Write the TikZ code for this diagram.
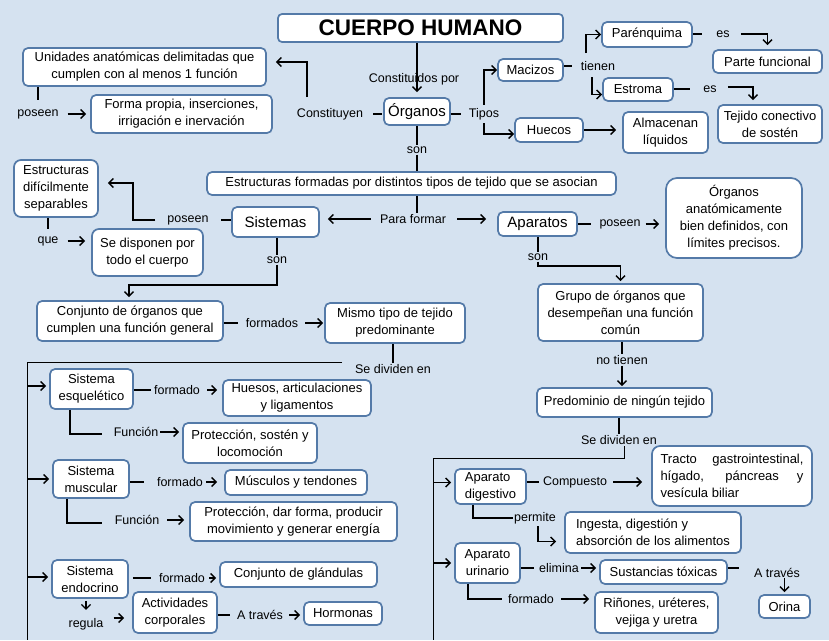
\documentclass[tikz,border=0pt]{standalone}
\usepackage{fontspec}
\setmainfont{Liberation Sans}
\usetikzlibrary{arrows.meta}
\definecolor{bgc}{RGB}{213,226,240}
\definecolor{bdc}{RGB}{84,122,168}
\begin{document}
\begin{tikzpicture}[x=1pt,y=-1pt,
 box/.style={draw=bdc, fill=white, rounded corners=5pt, line width=1.7pt, align=center, inner sep=2pt, font=\fontsize{13}{17}\selectfont},
 big/.style={box, font=\fontsize{15}{18}\selectfont},
 lab/.style={inner sep=1pt, font=\fontsize{12.5}{15}\selectfont},
 con/.style={line width=1.4pt, black},
 thin/.style={line width=1pt, black},
 arr/.style={con, -{Straight Barb[length=4.5pt,width=9pt]}},
]
\useasboundingbox (0,0) rectangle (829,640);
\fill[bgc] (0,0) rectangle (829,640);

% ---------- top ----------
\node[box, font=\bfseries\fontsize{22.5}{26}\selectfont, minimum width=285, minimum height=28, rounded corners=4pt] (title) at (420.5,28) {CUERPO HUMANO};
\node[box, minimum width=243, minimum height=38] (unid) at (144.5,67) {Unidades anatómicas delimitadas que\\cumplen con al menos 1 función};
\node[box, minimum width=181, minimum height=38] (forma) at (181.5,114) {Forma propia, inserciones,\\irrigación e inervación};
\node[lab] (pos1) at (38,114) {poseen};
\node[big, minimum width=66, minimum height=27] (org) at (417,111.5) {Órganos};
\node[lab] (const) at (330,114) {Constituyen};
\node[lab] (constp) at (414,79) {Constituidos por};
\node[lab] (tipos) at (484,114) {Tipos};
\node[box, minimum width=65, minimum height=22] (maci) at (530.5,70) {Macizos};
\node[box, minimum width=68, minimum height=24] (huec) at (549,130) {Huecos};
\node[lab] (tien) at (598,66) {tienen};
\node[box, minimum width=90, minimum height=25] (paren) at (647,34.5) {Parénquima};
\node[box, minimum width=70, minimum height=23] (estro) at (638,89.5) {Estroma};
\node[lab] (es1) at (723,34) {es};
\node[lab] (es2) at (710,89) {es};
\node[box, minimum width=109, minimum height=23] (parte) at (767.5,61.5) {Parte funcional};
\node[box, minimum width=104, minimum height=38] (tejc) at (770,124) {Tejido conectivo\\de sostén};
\node[box, minimum width=85, minimum height=41] (alma) at (665.5,132.5) {Almacenan\\líquidos};
\node[lab] (son1) at (417,150) {son};

\draw[con, shorten >=8pt] (pos1.north |- unid.south) -- (pos1.north);
\draw[arr, shorten <=8pt, shorten >=4pt] (pos1.east) -- (pos1.east -| forma.west);
\draw[con, shorten <=1pt, shorten >=9pt] (const.east -| org.west) -- (const.east);
\coordinate (c1) at (307,97);
\draw[arr, shorten >=9pt] (c1) |- ([yshift=5pt]unid.east);
\draw[arr, shorten >=5pt] (title.south -| org.north) -- (org.north);
\draw[con, shorten >=7pt] (tipos.west -| org.east) -- (tipos.west);
\draw[arr, shorten <=2pt] (tipos.north) |- (maci.west);
\draw[arr, shorten <=2pt] (tipos.south) |- ([yshift=-4pt]huec.west);
\draw[con, shorten >=8pt] (tien.west -| maci.east) -- (tien.west);
\coordinate (t1) at (586,53);
\coordinate (t2) at (592,77);
\draw[arr] (t1) |- (paren.west);
\draw[arr] (t2) |- ([yshift=-5pt]estro.west);
\draw[con, shorten >=13pt] (es1.west -| paren.east) -- (es1.west);
\draw[arr, shorten <=10pt, shorten >=4pt] (es1.east) -| (parte.north);
\draw[con, shorten >=12pt] (es2.west -| estro.east) -- (es2.west);
\draw[arr, shorten <=10pt, shorten >=4pt] ([yshift=2pt]es2.east) -| ([xshift=-17pt]tejc.north);
\draw[arr, shorten >=6pt] (huec.east) -- (huec.east -| alma.west);

% ---------- middle ----------
\node[box, minimum width=409, minimum height=23] (estr) at (411.5,183.5) {Estructuras formadas por distintos tipos de tejido que se asocian};
\draw[con] (org.south) -- (son1.north);
\draw[con] (son1.south) -- (son1.south |- estr.north);
\node[lab] (para) at (413,219) {Para formar};
\draw[con] (estr.south -| son1) -- (para.north -| son1);
\node[big, minimum width=87, minimum height=30] (sist) at (275.5,222) {Sistemas};
\node[big, minimum width=79, minimum height=24] (apar) at (537.5,224) {Aparatos};
\draw[arr, shorten <=8pt, shorten >=8pt] (para.west) -- (para.west -| sist.east);
\draw[arr, shorten <=10pt, shorten >=11pt] (para.east) -- (para.east -| apar.west);

\node[lab] (pos2) at (188,220) {poseen};
\node[box, minimum width=84, minimum height=57, rounded corners=7pt] (estd) at (56,188.5) {Estructuras\\difícilmente\\separables};
\draw[con, shorten >=11pt] (sist.west |- pos2.east) -- (pos2.east);
\coordinate (b1) at (133,183);
\draw[arr, shorten <=11pt, shorten >=9pt] (pos2.west) -| (b1) -- (b1 -| estd.east);
\node[lab] (que) at (48,241) {que};
\node[box, minimum width=111, minimum height=47, rounded corners=7pt] (sedis) at (147.5,252.5) {Se disponen por\\todo el cuerpo};
\draw[con, shorten >=6pt] (que.north |- estd.south) -- (que.north);
\draw[arr, shorten <=8pt, shorten >=6pt] (que.east) -- (que.east -| sedis.west);

\node[lab] (son2) at (277,260) {son};
\draw[con] (sist.south -| son2) -- (son2.north);
\node[box, minimum width=186, minimum height=40] (conj) at (130,321) {Conjunto de órganos que\\cumplen una función general};
\coordinate (k2) at (129,285);
\draw[arr, shorten >=3pt] (son2.south) |- (k2) -- (conj.north -| k2);
\node[lab] (formados) at (272,323) {formados};
\node[box, minimum width=140, minimum height=40] (mismo) at (395,323) {Mismo tipo de tejido\\predominante};
\draw[con, shorten >=7pt] (formados.west -| conj.east) -- (formados.west);
\draw[arr, shorten <=6pt, shorten >=1pt] (formados.east) -- (formados.east -| mismo.west);

\node[lab] (pos3) at (620,224) {poseen};
\node[box, minimum width=136, minimum height=80, rounded corners=11pt] (oanat) at (734,218) {Órganos\\anatómicamente\\bien definidos, con\\límites precisos.};
\draw[con, shorten >=7pt] (apar.east |- pos3.west) -- (pos3.west);
\draw[arr, shorten <=4pt, shorten >=6pt] (pos3.east) -- (pos3.east -| oanat.west);
\node[lab] (son3) at (538,257) {son};
\draw[con] (apar.south -| son3) -- (son3.north);
\node[box, minimum width=165, minimum height=57] (grupo) at (620.5,312.5) {Grupo de órganos que\\desempeñan una función\\común};
\coordinate (k3) at (538,266);
\draw[arr, shorten >=2pt] (son3.south) -- (k3) -| (grupo.north);
\node[lab] (notien) at (622,360) {no tienen};
\draw[con] (grupo.south -| notien) -- (notien.north);
\node[box, minimum width=175, minimum height=29] (predo) at (624.5,402.5) {Predominio de ningún tejido};
\draw[arr, shorten >=1pt] (notien.south) -- (notien.south |- predo.north);

% ---------- left bottom ----------
\node[lab] (sed1) at (393,369) {Se dividen en};
\draw[con] (mismo.south -| sed1) -- (sed1.north);
\coordinate (L) at (27,362);
\coordinate (Lb) at (27,640);
\draw[thin] (342,362) -- (L) -- (Lb);

\node[box, minimum width=83, minimum height=40] (esq) at (91.5,389) {Sistema\\esquelético};
\node[lab] (fo1) at (177,390) {formado};
\node[box, minimum width=148, minimum height=36] (hues) at (297,398) {Huesos, articulaciones\\y ligamentos};
\node[lab] (fu1) at (136,432) {Función};
\node[box, minimum width=134, minimum height=40] (prot1) at (250,443) {Protección, sostén y\\locomoción};
\draw[arr, shorten >=3pt] ([yshift=3pt]esq.west -| L) -- ([yshift=3pt]esq.west);
\draw[con, shorten >=2pt] (fo1.west -| esq.east) -- (fo1.west);
\draw[arr, shorten <=6pt, shorten >=5pt] (fo1.east) -- (fo1.east -| hues.west);
\draw[con, shorten >=11pt] ([xshift=-21.5pt]esq.south) |- ([yshift=-2pt]fu1.west);
\draw[arr, shorten <=1pt, shorten >=3pt] (fu1.east) -- (fu1.east -| prot1.west);

\node[box, minimum width=76, minimum height=38] (musc) at (91,479) {Sistema\\muscular};
\node[lab] (fo2) at (180,482) {formado};
\node[box, minimum width=142, minimum height=25] (mus) at (296,482.5) {Músculos y tendones};
\node[lab] (fu2) at (137,520) {Función};
\node[box, minimum width=207, minimum height=39] (prot2) at (293.5,521.5) {Protección, dar forma, producir\\movimiento y generar energía};
\draw[arr, shorten >=3pt] (musc.west -| L) -- (musc.west);
\draw[con, shorten >=12pt] (musc.east |- fo2.west) -- (fo2.west);
\draw[arr, shorten <=2pt, shorten >=7pt] (fo2.east) -- (fo2.east -| mus.west);
\draw[con, shorten >=12pt] ([xshift=-24pt]musc.south) |- ([yshift=-3pt]fu2.west);
\draw[arr, shorten <=7pt, shorten >=5pt] (fu2.east) -- (fu2.east -| prot2.west);

\node[box, minimum width=76, minimum height=38] (endo) at (90,579) {Sistema\\endocrino};
\node[lab] (fo3) at (182,578) {formado};
\node[box, minimum width=157, minimum height=25] (glan) at (298.5,574.5) {Conjunto de glándulas};
\node[lab] (regu) at (86,624) {regula};
\node[box, minimum width=84, minimum height=41] (activ) at (175,612.5) {Actividades\\corporales};
\node[lab] (at1) at (260,615) {A través};
\node[box, minimum width=78, minimum height=23] (horm) at (343,613.5) {Hormonas};
\draw[arr, shorten >=3pt] ([yshift=2pt]endo.west -| L) -- ([yshift=2pt]endo.west);
\draw[con, shorten <=4pt, shorten >=7pt] (endo.east |- fo3.west) -- (fo3.west);
\draw[arr, shorten <=3pt, shorten >=3pt] (fo3.east) -- (fo3.east -| glan.west);
\draw[arr, shorten <=2pt, shorten >=7pt] (endo.south -| regu) -- (regu.north);
\draw[arr, shorten <=9pt, shorten >=8pt] ([yshift=6pt]regu.east) -- ([yshift=6pt]regu.east -| activ.west);
\draw[con, shorten >=6pt] (activ.east |- at1.west) -- (at1.west);
\draw[arr, shorten <=5pt, shorten >=3pt] (at1.east) -- (at1.east -| horm.west);

% ---------- right bottom ----------
\node[lab] (sed2) at (619,440) {Se dividen en};
\draw[con] (predo.south -| sed2) -- (sed2.north);
\coordinate (R) at (433,458);
\coordinate (Rb) at (433,640);
\draw[thin] ([xshift=5pt]sed2.south) |- (R) -- (Rb);

\node[box, minimum width=71, minimum height=35, align=left] (dig) at (490.5,486.5) {Aparato\\digestivo};
\node[lab] (comp) at (575,482) {Compuesto};
\node[box, minimum width=160, minimum height=60, rounded corners=8pt, align=left] (tract) at (732,476) {\makebox[143pt][s]{Tracto gastrointestinal,}\\\makebox[143pt][s]{hígado, páncreas y}\\vesícula biliar};
\node[lab] (perm) at (535,518) {permite};
\node[box, minimum width=176, minimum height=41, align=left] (inge) at (653,532.5) {Ingesta, digestión y\\absorción de los alimentos};
\draw[arr, shorten >=3pt] ([yshift=4pt]dig.west -| R) -- ([yshift=4pt]dig.west);
\draw[con, shorten >=3pt] (dig.east |- comp.west) -- (comp.west);
\draw[arr, shorten <=5pt, shorten >=9pt] (comp.east) -- (comp.east -| tract.west);
\draw[con] ([xshift=-17.5pt]dig.south) |- (perm.west);
\draw[arr, shorten <=1pt, shorten >=8pt] ([xshift=3pt]perm.south) |- ([yshift=-9pt]inge.west);

\node[box, minimum width=65, minimum height=40] (uri) at (487.5,563) {Aparato\\urinario};
\node[lab] (elim) at (559,568) {elimina};
\node[box, minimum width=127, minimum height=24] (sust) at (663.5,572) {Sustancias tóxicas};
\node[lab] (at2) at (777,573) {A través};
\node[box, minimum width=51, minimum height=23] (orina) at (784.5,606.5) {Orina};
\node[lab] (fo4) at (531,599) {formado};
\node[box, minimum width=123, minimum height=41] (rin) at (656.5,612.5) {Riñones, uréteres,\\vejiga y uretra};
\draw[arr, shorten >=3pt] (uri.west -| R) -- (uri.west);
\draw[con, shorten >=4pt] (uri.east |- elim.west) -- (elim.west);
\draw[arr, shorten <=1pt, shorten >=3pt] (elim.east) -- (elim.east -| sust.west);
\draw[con, shorten >=14pt] ([yshift=4pt]sust.east) -- ([yshift=4pt]sust.east -| at2.west);
\draw[arr, shorten <=5pt, shorten >=2pt] (orina.north |- at2.center) -- (orina.north);
\draw[con, shorten >=5pt] ([xshift=-19.5pt]uri.south) |- (fo4.west);
\draw[arr, shorten <=6pt, shorten >=5pt] (fo4.east) -- (fo4.east -| rin.west);
\end{tikzpicture}
\end{document}
